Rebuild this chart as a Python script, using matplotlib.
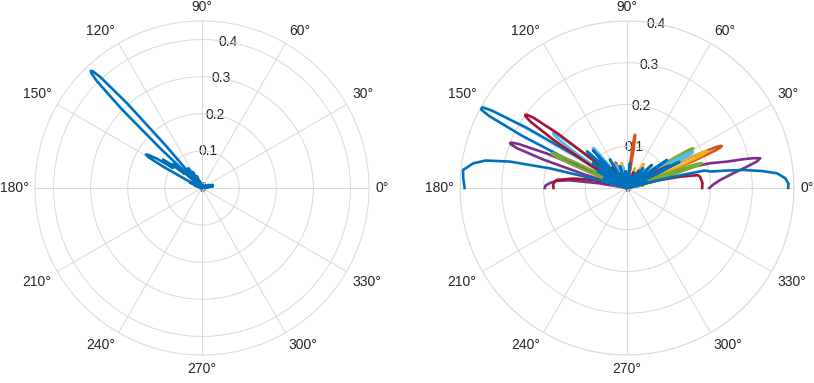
import numpy as np
import matplotlib
matplotlib.use('Agg')
import matplotlib.pyplot as plt

plt.rcParams['font.family'] = ['Liberation Sans', 'DejaVu Sans']

# MATLAB default line colours
blue = '#0072BD'
orange = '#D95319'
yellow = '#EDB120'
purple = '#7E2F8E'
green = '#77AC30'
lightblue = '#4DBEEE'
darkred = '#A2142F'

theta_ticks = list(range(0, 360, 30))
theta_labels = [f'{t}°' for t in theta_ticks]
r_ticks = [0, 0.1, 0.2, 0.3, 0.4]
r_labels = ['0', '0.1', '0.2', '0.3', '0.4']

# ---- left panel: one pattern (angle in degrees, magnitude) ----
left_deg = [0, 6, 9, 12, 16, 20, 24, 28, 50, 70, 90, 100,
            106, 108, 111, 114, 117, 120, 122.5, 125, 127.5,
            129.5, 130.5, 131.5, 132.5, 133.1, 133.5, 133.9, 134.5, 135.5, 136.5, 137.5,
            138.6, 139.6, 140.7, 142.2, 144, 145.4, 147, 148.3, 149.2, 150.1, 151.2, 152.4,
            153.5, 155.5, 157.5, 160, 163, 180]
left_r = [0, 0.012, 0.03, 0.008, 0.03, 0.01, 0.02, 0, 0.008, 0.005, 0.01, 0.006,
          0, 0.02, 0.006, 0.035, 0.01, 0.05, 0.012, 0.065, 0.02,
          0, 0.152, 0.305, 0.405, 0.431, 0.435, 0.431, 0.405, 0.305, 0.152, 0,
          0.06, 0.10, 0.06, 0.10, 0.13, 0.095, 0.145, 0.17, 0.176, 0.166, 0.12, 0.05,
          0, 0.035, 0, 0.02, 0, 0]

# ---- right panel: eight patterns ----
blue1_deg = [0, 14, 17, 20, 36, 39, 42, 112, 116, 120,
             126, 129.5, 133, 137, 140.5, 144,
             146.8, 147.93, 149.05, 150.18, 150.85, 151.3, 151.75, 152.43, 153.55, 154.68, 155.8,
             157.8, 159.8, 161, 163.5, 165.5, 180]
blue1_r = [0, 0, 0.035, 0, 0, 0.03, 0, 0, 0.045, 0,
           0, 0.07, 0, 0, 0.09, 0,
           0, 0.14, 0.28, 0.372, 0.396, 0.40, 0.396, 0.372, 0.28, 0.14, 0,
           0.06, 0, 0, 0.03, 0, 0]

orange_deg = [0, 13, 15, 17,
              20.4, 21.28, 22.15, 23.03, 23.55, 23.9, 24.25, 24.78, 25.65, 26.53, 27.4,
              30, 32, 34, 38, 40, 42, 68, 70, 72,
              79.4, 79.9, 80.4, 80.9, 81.2, 81.4, 81.6, 81.9, 82.4, 82.9, 83.4,
              93, 95, 97, 111.5, 112.75, 114, 115.25, 116.5,
              126, 128, 130, 138, 140, 142, 180]
orange_r = [0, 0, 0.05, 0,
            0, 0.087, 0.174, 0.231, 0.246, 0.248, 0.246, 0.231, 0.174, 0.087, 0,
            0, 0.06, 0, 0, 0.04, 0, 0, 0.03, 0,
            0, 0.045, 0.09, 0.12, 0.128, 0.129, 0.128, 0.12, 0.09, 0.045, 0,
            0, 0.03, 0, 0, 0.043, 0.067, 0.043, 0,
            0, 0.04, 0, 0, 0.03, 0, 0]

yellow_deg = [0, 10, 12, 14,
              21, 21.88, 22.75, 23.63, 24.15, 24.5, 24.85, 25.38, 26.25, 27.13, 28,
              32, 34, 36, 40.6, 42.6, 44.6, 53, 55, 57, 66, 68, 70,
              100, 102, 104, 118, 120, 122, 133, 135, 137, 148, 150, 152, 180]
yellow_r = [0, 0, 0.03, 0,
            0, 0.074, 0.148, 0.197, 0.21, 0.212, 0.21, 0.197, 0.148, 0.074, 0,
            0, 0.10, 0, 0, 0.081, 0, 0, 0.07, 0, 0, 0.05, 0,
            0, 0.06, 0, 0, 0.064, 0, 0, 0.04, 0, 0, 0.03, 0, 0]

purple_deg = [0, 2.5, 4.9, 7.9, 10.1, 11.5, 12.6, 13.3, 13.9, 14.8, 16.6, 18.5, 20, 21,
              28, 30, 32, 43, 45, 47, 118, 120, 122, 138, 140, 142,
              154.5, 155.63, 156.75, 157.88, 158.55, 159, 159.45, 160.13, 161.25, 162.38, 163.5,
              168, 170.5, 172.4, 174.3, 176.3, 178.2, 180]
purple_r = [0.197, 0.208, 0.224, 0.257, 0.292, 0.317, 0.327, 0.31, 0.287, 0.247, 0.208, 0.15, 0.08, 0,
            0, 0.05, 0, 0, 0.04, 0, 0, 0.04, 0, 0, 0.06, 0,
            0, 0.105, 0.21, 0.279, 0.297, 0.30, 0.297, 0.279, 0.21, 0.105, 0,
            0, 0.07, 0.14, 0.17, 0.185, 0.195, 0.197]

green_deg = [0, 8, 10, 12,
             15.3, 16.05, 16.8, 17.55, 18.0, 18.3, 18.6, 19.05, 19.8, 20.55, 21.3,
             27.4, 28.28, 29.15, 30.03, 30.55, 30.9, 31.25, 31.78, 32.65, 33.53, 34.4,
             43, 45, 47, 58, 60, 62, 93, 95, 97, 118, 120, 122, 133, 135, 137,
             151.8, 152.68, 153.55, 154.43, 154.95, 155.3, 155.65, 156.18, 157.05, 157.93, 158.8,
             165, 167, 169, 180]
green_r = [0, 0, 0.04, 0,
           0, 0.066, 0.132, 0.176, 0.187, 0.189, 0.187, 0.176, 0.132, 0.066, 0,
           0, 0.065, 0.13, 0.172, 0.183, 0.185, 0.183, 0.172, 0.13, 0.065, 0,
           0, 0.05, 0, 0, 0.04, 0, 0, 0.04, 0, 0, 0.05, 0, 0, 0.06, 0,
           0, 0.07, 0.139, 0.185, 0.197, 0.199, 0.197, 0.185, 0.139, 0.07, 0,
           0, 0.04, 0, 0]

lightblue_deg = [0, 10, 12, 14,
                 25.3, 26.18, 27.05, 27.93, 28.45, 28.8, 29.15, 29.68, 30.55, 31.43, 32.3,
                 38, 40, 42, 48, 50, 52, 98, 100, 102, 113, 115, 117,
                 127.5, 128.4, 129.3, 130, 130.7, 131.6, 132.5,
                 139.5, 140.5, 141.5, 142.5, 143.1, 143.5, 143.9, 144.5, 145.5, 146.5, 147.5,
                 158, 160, 162, 180]
lightblue_r = [0, 0, 0.03, 0,
               0, 0.063, 0.126, 0.167, 0.178, 0.18, 0.178, 0.167, 0.126, 0.063, 0,
               0, 0.06, 0, 0, 0.05, 0, 0, 0.05, 0, 0, 0.06, 0,
               0, 0.05, 0.108, 0.125, 0.108, 0.05, 0,
               0, 0.077, 0.154, 0.205, 0.218, 0.22, 0.218, 0.205, 0.154, 0.077, 0,
               0, 0.05, 0, 0]

darkred_deg = [0, 4, 8.8, 10.3, 12, 13.6, 15,
               24, 24.88, 25.75, 26.63, 27.15, 27.5, 27.85, 28.38, 29.25, 30.13, 31,
               38, 40, 42, 53, 55, 57, 65, 67, 69, 108, 110, 112, 122.5, 125, 127.5,
               139.3, 140.55, 141.8, 143.05, 143.8, 144.3, 144.8, 145.55, 146.8, 148.05, 149.3,
               164, 166.5, 170, 173.5, 175.5, 177.7, 180]
darkred_r = [0.18, 0.181, 0.177, 0.172, 0.13, 0.081, 0,
             0, 0.04, 0.081, 0.107, 0.114, 0.115, 0.114, 0.107, 0.081, 0.04, 0,
             0, 0.04, 0, 0, 0.05, 0, 0, 0.04, 0, 0, 0.04, 0, 0, 0.06, 0,
             0, 0.105, 0.21, 0.279, 0.297, 0.30, 0.297, 0.279, 0.21, 0.105, 0,
             0, 0.082, 0.13, 0.17, 0.175, 0.177, 0.176]

blue2_deg = [0, 1.5, 3.5, 5.6, 7.2, 8.8, 10, 11.1, 12.7, 13.8, 14.6,
             15.5, 16.5, 17.5,
             24, 25.25, 26.5, 27.75, 29,
             32.5, 33.75, 35, 36.25, 37.5,
             40.5, 43, 45.5, 48.5, 51, 53.5, 57.5, 60, 62.5, 67.5, 70, 72.5,
             80.5, 83, 85.5, 92.5, 95, 97.5, 105.5, 108, 110.5, 118.5, 121, 123.5,
             129.5, 130.75, 132, 133.25, 134.5,
             135, 136.25, 137.5, 138.75, 140,
             141.5, 144, 146.5, 148, 150.5, 153, 155, 157, 159,
             164, 164.8, 165.7, 167.3, 169, 170.9, 173.7, 176.5, 180]
blue2_r = [0.386, 0.387, 0.38, 0.361, 0.325, 0.282, 0.24, 0.205, 0.19, 0.11, 0,
           0, 0.05, 0,
           0, 0.09, 0.14, 0.09, 0,
           0, 0.075, 0.117, 0.075, 0,
           0, 0.08, 0, 0, 0.061, 0, 0, 0.04, 0, 0, 0.03, 0,
           0, 0.06, 0, 0, 0.04, 0, 0, 0.054, 0, 0, 0.079, 0,
           0, 0.078, 0.122, 0.078, 0,
           0, 0.083, 0.13, 0.083, 0,
           0, 0.10, 0, 0, 0.08, 0, 0, 0.06, 0,
           0, 0.1, 0.19, 0.288, 0.345, 0.373, 0.395, 0.393, 0.389]

right_series = [
    (blue1_deg, blue1_r, blue),
    (orange_deg, orange_r, orange),
    (yellow_deg, yellow_r, yellow),
    (purple_deg, purple_r, purple),
    (green_deg, green_r, green),
    (lightblue_deg, lightblue_r, lightblue),
    (darkred_deg, darkred_r, darkred),
    (blue2_deg, blue2_r, blue),
]

text_c = '#262626'
grid_c = '#d9d9d9'
lw = 1.9


def style(ax, rmax):
    ax.set_ylim(0, rmax)
    ax.set_xticks(np.deg2rad(theta_ticks))
    ax.set_xticklabels([])
    ax.set_yticks(r_ticks)
    ax.set_yticklabels([])
    ax.tick_params(length=0)
    ax.grid(True, color=grid_c, lw=0.7)
    ax.spines['polar'].set_color(grid_c)
    ax.spines['polar'].set_linewidth(0.7)
    # angle labels just outside the circle, edge-aligned like MATLAB
    g = 0.02
    for t, lab in zip(theta_ticks, theta_labels):
        c, s = np.cos(np.deg2rad(t)), np.sin(np.deg2rad(t))
        ha = 'left' if c > 0.1 else ('right' if c < -0.1 else 'center')
        va = 'bottom' if s > 0.1 else ('top' if s < -0.1 else 'center')
        ax.text(0.5 + (0.5 + g) * c, 0.5 + (0.5 + g) * s, lab,
                transform=ax.transAxes, ha=ha, va=va, fontsize=10, color=text_c)
    # radius labels along the 80 degree direction
    for rv, lab in zip(r_ticks, r_labels):
        ax.text(np.deg2rad(80), rv, lab, ha='center', va='center',
                fontsize=10, color=text_c, zorder=1)


fig = plt.figure(figsize=(8.14, 3.83), dpi=100)
ax_l = fig.add_axes([35 / 814, 28 / 383, 334 / 814, 334 / 383], projection='polar')
ax_r = fig.add_axes([460 / 814, 28 / 383, 334 / 814, 334 / 383], projection='polar')

style(ax_l, 0.45)
style(ax_r, 0.4)

ax_l.plot(np.deg2rad(left_deg), left_r, color=blue, lw=lw,
          solid_joinstyle='round', zorder=3)

for deg, r, col in right_series:
    ax_r.plot(np.deg2rad(deg), r, color=col, lw=lw,
              solid_joinstyle='round', zorder=3)

fig.savefig('out.png', dpi=100)
